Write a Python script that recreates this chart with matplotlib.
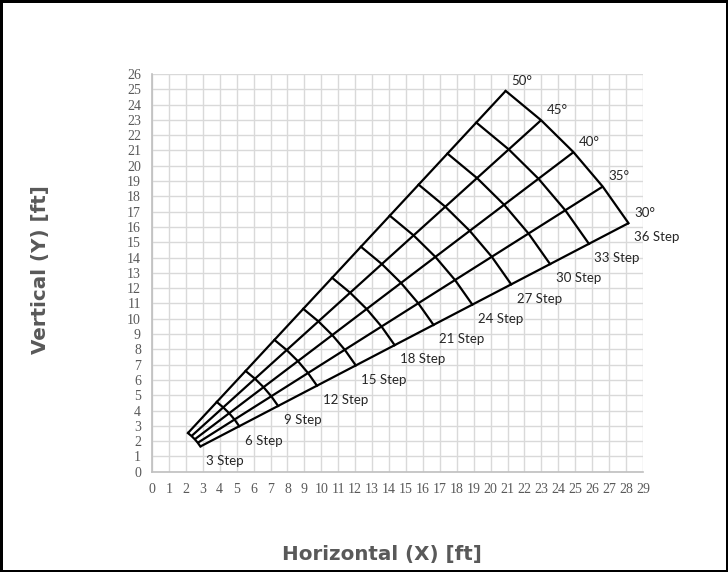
import numpy as np
import matplotlib
matplotlib.use('Agg')
from matplotlib import pyplot as plt
from matplotlib.ticker import MultipleLocator

# ladder angle (deg) and reach (ft) for each step count
angles = [30, 35, 40, 45, 50]
steps = [3, 6, 9, 12, 15, 18, 21, 24, 27, 30, 33, 36]
reach_ft = [3.3, 5.95, 8.6, 11.25, 13.9, 16.55, 19.2, 21.85, 24.5, 27.15, 29.8, 32.5]
step_labels = ['{} Step'.format(s) for s in steps]
angle_labels = ['{}°'.format(a) for a in angles]

GRAY = '#595959'

fig = plt.figure(figsize=(7.28, 5.72), dpi=100, edgecolor='black', linewidth=2.5)
ax = fig.add_axes([0.2088, 0.1753, 0.6744, 0.6953])

theta = np.radians(angles)
r = np.array(reach_ft)
X = np.outer(r, np.cos(theta))   # rows: steps, cols: angles
Y = np.outer(r, np.sin(theta))

# rays (constant angle)
for j in range(len(angles)):
    ax.plot(X[:, j], Y[:, j], color='black', lw=1.6, solid_capstyle='butt', zorder=3)
# arcs (constant step count)
for i in range(len(steps)):
    ax.plot(X[i, :], Y[i, :], color='black', lw=1.6, zorder=3)

for i, lab in enumerate(step_labels):
    ax.annotate(lab, (X[i, 0], Y[i, 0]), xytext=(4, -6), textcoords='offset points',
                ha='left', va='top', fontsize=9.5, family='Lato', color='#262626')
for j, lab in enumerate(angle_labels):
    ax.annotate(lab, (X[-1, j], Y[-1, j]), xytext=(4, 3), textcoords='offset points',
                ha='left', va='bottom', fontsize=9.5, family='Lato', color='#262626')

ax.set_xlim(0, 29)
ax.set_ylim(0, 26)
ax.xaxis.set_major_locator(MultipleLocator(1))
ax.yaxis.set_major_locator(MultipleLocator(1))
ax.grid(True, color='#d9d9d9', lw=1)
ax.set_axisbelow(True)
for s in ['top', 'right']:
    ax.spines[s].set_visible(False)
for s in ['left', 'bottom']:
    ax.spines[s].set_color('#bfbfbf')
    ax.spines[s].set_linewidth(1.2)
ax.tick_params(length=0, pad=8, colors=GRAY, labelsize=10)
for t in ax.get_xticklabels() + ax.get_yticklabels():
    t.set_family('Liberation Serif')

fig.text(0.055, 0.528, 'Vertical (Y) [ft]', rotation=90, ha='center', va='center',
         fontsize=14.3, fontweight='bold', family='DejaVu Sans', color=GRAY)
fig.text(0.524, 0.03, 'Horizontal (X) [ft]', ha='center', va='center',
         fontsize=14.3, fontweight='bold', family='DejaVu Sans', color=GRAY)

fig.savefig('out.png', dpi=100, edgecolor=fig.get_edgecolor())
